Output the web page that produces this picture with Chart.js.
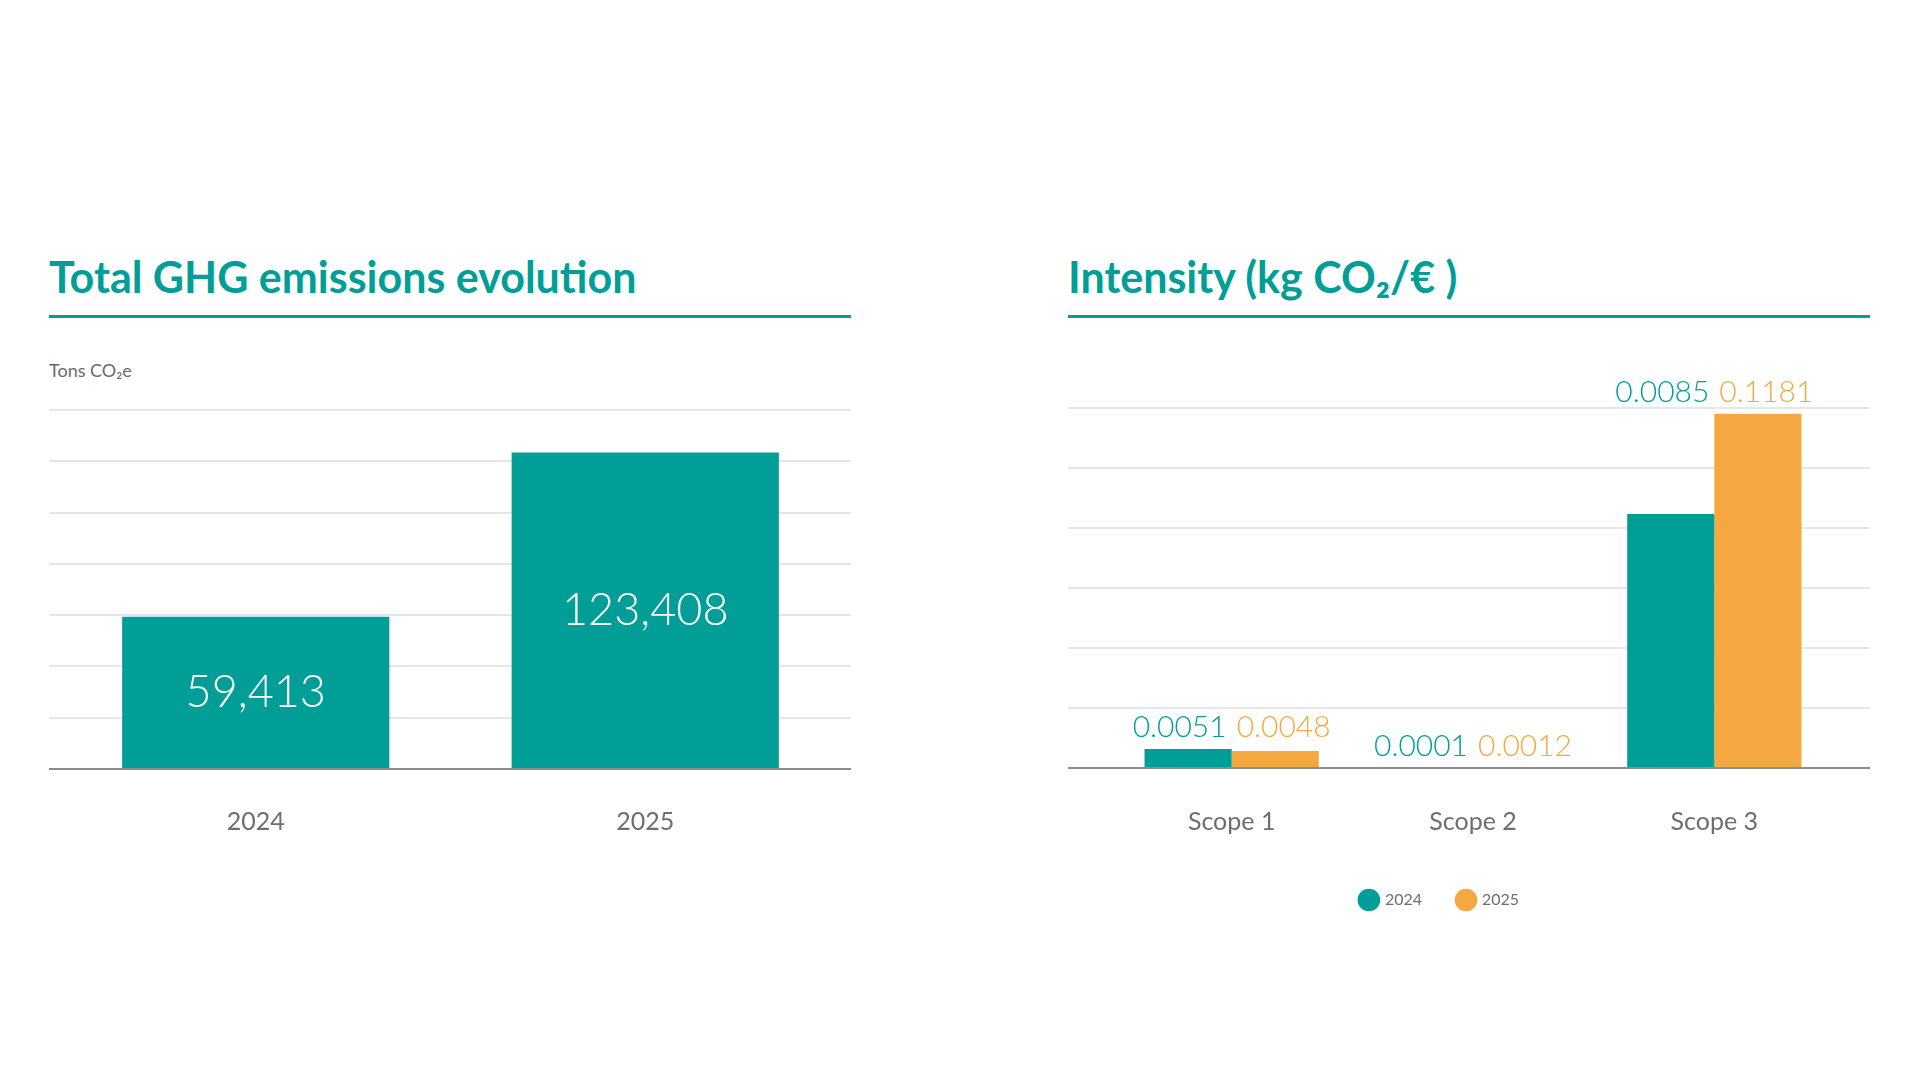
<!DOCTYPE html>
<html>
<head>
<meta charset="utf-8">
<script src="https://cdn.jsdelivr.net/npm/chart.js@4.4.1/dist/chart.umd.min.js"></script>
<style>
    body { margin: 0; width: 1920px; height: 1080px; background: #fff; position: relative; overflow: hidden; font-family: Lato, 'Open Sans', sans-serif; }
    .title { position: absolute; top: 255px; font: 700 43px/43px Lato, sans-serif; color: #009e96; white-space: nowrap; }
    .rule { position: absolute; top: 315px; width: 802px; height: 3px; background: #009e96; }
    .unit { position: absolute; left: 49px; top: 360px; font: 400 18px/20px Lato, sans-serif; color: #6b6b6b; }
    .box { position: absolute; width: 802px; }
</style>
</head>
<body>
<div class="title" style="left:49px">Total GHG emissions evolution</div>
<div class="rule" style="left:49px"></div>
<div class="unit">Tons CO₂e</div>
<div class="box" style="left:49px; top:400px; height:480px"><canvas id="totalChart"></canvas></div>

<div class="title" style="left:1068px">Intensity (kg CO₂/€ )</div>
<div class="rule" style="left:1068px"></div>
<div class="box" style="left:1068px; top:340px; height:600px"><canvas id="intensityChart"></canvas></div>

<script>
const TEAL = '#009e96';
const ORANGE = '#f5a841';
const GRID = '#e6e6e6';
const AXIS = '#8c8c8c';
const TICK = '#6e6e6e';

// left chart
const years = ['2024', '2025'];
const totalTons = [59413, 123408];
const totalMax = 140000;
const totalStep = 20000;

// right chart (bar heights as drawn, labels as printed)
const scopes = ['Scope 1', 'Scope 2', 'Scope 3'];
const intensity2024 = [0.0063, 0, 0.0847];
const intensity2025 = [0.0057, 0, 0.1181];
const labels2024 = ['0.0051', '0.0001', '0.0085'];
const labels2025 = ['0.0048', '0.0012', '0.1181'];
const intensityMax = 0.12;
const intensityStep = 0.02;

// grid lines run the full width of the canvas, past the category padding
const wideGrid = {
    id: 'wideGrid',
    beforeDatasetsDraw(chart) {
        const { ctx, scales: { y } } = chart;
        ctx.save();
        ctx.lineWidth = 2;
        ctx.strokeStyle = GRID;
        y.ticks.forEach((t) => {
            if (t.value === 0) return;
            const py = Math.round(y.getPixelForValue(t.value));
            ctx.beginPath();
            ctx.moveTo(0, py);
            ctx.lineTo(chart.width, py);
            ctx.stroke();
        });
        ctx.restore();
    },
    afterDatasetsDraw(chart) {
        const { ctx, scales: { y } } = chart;
        const py = Math.round(y.getPixelForValue(0));
        ctx.save();
        ctx.lineWidth = 2;
        ctx.strokeStyle = AXIS;
        ctx.beginPath();
        ctx.moveTo(0, py);
        ctx.lineTo(chart.width, py);
        ctx.stroke();
        ctx.restore();
    },
};

const insideLabels = {
    id: 'insideLabels',
    afterDatasetsDraw(chart) {
        const { ctx } = chart;
        ctx.save();
        ctx.font = '300 45px Lato, sans-serif';
        ctx.fillStyle = '#ffffff';
        ctx.textAlign = 'center';
        ctx.textBaseline = 'middle';
        chart.getDatasetMeta(0).data.forEach((bar, i) => {
            ctx.fillText(totalTons[i].toLocaleString('en-US'), bar.x, (bar.y + bar.base) / 2);
        });
        ctx.restore();
    },
};

const pairLabels = {
    id: 'pairLabels',
    afterDatasetsDraw(chart) {
        const { ctx } = chart;
        const m0 = chart.getDatasetMeta(0);
        const m1 = chart.getDatasetMeta(1);
        ctx.save();
        ctx.font = '300 30px Lato, sans-serif';
        ctx.textBaseline = 'alphabetic';
        scopes.forEach((s, i) => {
            const b0 = m0.data[i];
            const b1 = m1.data[i];
            const cx = (b0.x + b1.x) / 2;
            const y = Math.min(b0.y, b1.y) - 12;
            ctx.fillStyle = TEAL;
            ctx.textAlign = 'right';
            ctx.fillText(labels2024[i], cx - 5, y);
            ctx.fillStyle = ORANGE;
            ctx.textAlign = 'left';
            ctx.fillText(labels2025[i], cx + 5, y);
        });
        ctx.restore();
    },
};

// the legend in the source sits a little left of centre
const legendShift = {
    id: 'legendShift',
    afterLayout(chart) {
        if (!chart.legend) return;
        chart.legend.left -= 33;
        chart.legend.right -= 33;
    },
};

const tickFont = { family: 'Lato, sans-serif', size: 25, weight: '400' };

new Chart(document.getElementById('totalChart'), {
    type: 'bar',
    data: {
        labels: years,
        datasets: [{
            label: 'Tons CO₂e',
            data: totalTons,
            backgroundColor: TEAL,
            borderWidth: 0,
            categoryPercentage: 1,
            barPercentage: 0.686,
        }],
    },
    options: {
        responsive: true,
        maintainAspectRatio: false,
        animation: false,
        layout: { padding: { top: 10, bottom: 5, left: 12, right: 11 } },
        plugins: { legend: { display: false }, tooltip: { enabled: false } },
        scales: {
            x: {
                grid: { display: false, drawTicks: false },
                border: { display: false },
                ticks: { color: TICK, font: tickFont, padding: 38 },
            },
            y: {
                display: false,
                min: 0,
                max: totalMax,
                ticks: { stepSize: totalStep },
            },
        },
    },
    plugins: [wideGrid, insideLabels],
});

new Chart(document.getElementById('intensityChart'), {
    type: 'bar',
    data: {
        labels: scopes,
        datasets: [
            {
                label: '2024',
                data: intensity2024,
                backgroundColor: TEAL,
                borderWidth: 0,
                categoryPercentage: 0.722,
                barPercentage: 1,
            },
            {
                label: '2025',
                data: intensity2025,
                backgroundColor: ORANGE,
                borderWidth: 0,
                categoryPercentage: 0.722,
                barPercentage: 1,
            },
        ],
    },
    options: {
        responsive: true,
        maintainAspectRatio: false,
        animation: false,
        layout: { padding: { top: 68, bottom: 22, left: 43, right: 35 } },
        plugins: {
            tooltip: { enabled: false },
            legend: {
                position: 'bottom',
                labels: {
                    usePointStyle: true,
                    pointStyle: 'circle',
                    boxWidth: 16,
                    boxHeight: 16,
                    padding: 36,
                    color: TICK,
                    font: { family: 'Lato, sans-serif', size: 16 },
                },
            },
        },
        scales: {
            x: {
                grid: { display: false, drawTicks: false },
                border: { display: false },
                ticks: { color: TICK, font: tickFont, padding: 39 },
                afterFit: (scale) => { scale.height = 88; },
            },
            y: {
                display: false,
                min: 0,
                max: intensityMax,
                ticks: { stepSize: intensityStep },
            },
        },
    },
    plugins: [wideGrid, pairLabels, legendShift],
});
</script>
</body>
</html>
